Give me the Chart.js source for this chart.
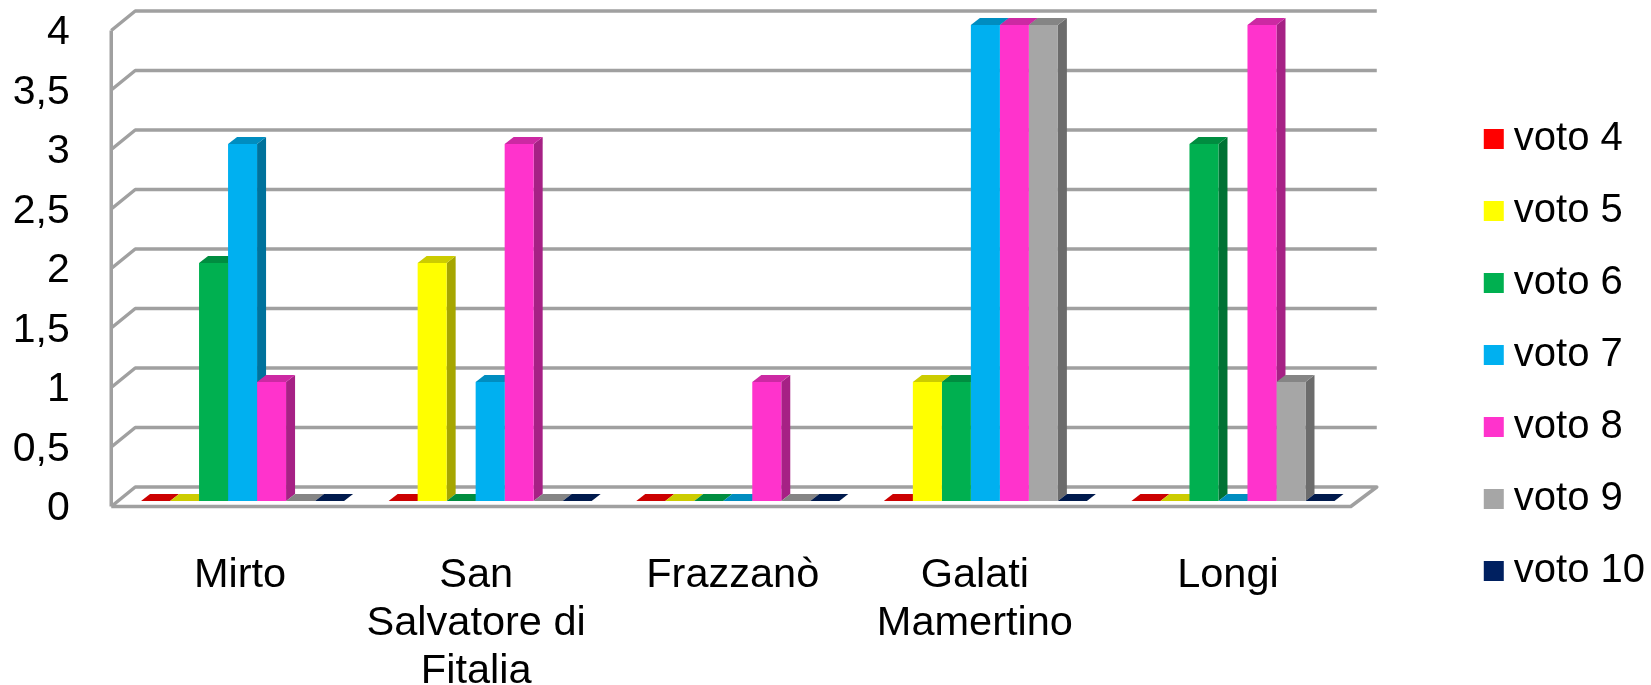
<!DOCTYPE html>
<html>
<head>
<meta charset="utf-8">
<style>
  html, body { margin: 0; padding: 0; background: #fff; }
  #wrap { width: 1651px; height: 685px; }
</style>
<script src="https://cdn.jsdelivr.net/npm/chart.js@4/dist/chart.umd.min.js"></script>
</head>
<body>
<div id="wrap"><canvas id="chart" width="1651" height="685"></canvas></div>
<script>
var comuni = ['Mirto', ['San', 'Salvatore di', 'Fitalia'], 'Frazzanò', ['Galati', 'Mamertino'], 'Longi'];
var yTicks = [0, 0.5, 1, 1.5, 2, 2.5, 3, 3.5, 4];

var voto4 = [0, 0, 0, 0, 0];
var voto5 = [0, 2, 0, 1, 0];
var voto6 = [2, 0, 0, 1, 3];
var voto7 = [3, 1, 0, 4, 0];
var voto8 = [1, 3, 1, 4, 4];
var voto9 = [0, 0, 0, 4, 1];
var voto10 = [0, 0, 0, 0, 0];

var names = ['voto 4', 'voto 5', 'voto 6', 'voto 7', 'voto 8', 'voto 9', 'voto 10'];
var colors = ['#ff0000', '#ffff00', '#00b050', '#00b0f0', '#ff33cc', '#a6a6a6', '#002060'];
var values = [voto4, voto5, voto6, voto7, voto8, voto9, voto10];

var FONT = 'Arial, "Liberation Sans", sans-serif';

function shade(hex, k) {
  var r = parseInt(hex.substr(1, 2), 16);
  var g = parseInt(hex.substr(3, 2), 16);
  var b = parseInt(hex.substr(5, 2), 16);
  return 'rgb(' + Math.round(r * k) + ',' + Math.round(g * k) + ',' + Math.round(b * k) + ')';
}

function poly(ctx, pts, fill) {
  ctx.beginPath();
  ctx.moveTo(pts[0], pts[1]);
  for (var i = 2; i < pts.length; i += 2) {
    ctx.lineTo(pts[i], pts[i + 1]);
  }
  ctx.closePath();
  ctx.fillStyle = fill;
  ctx.fill();
}

// back wall, left wall and floor, drawn from the y scale
var walls = {
  id: 'walls',
  beforeDatasetsDraw: function(chart) {
    var ctx = chart.ctx;
    var y = chart.scales.y;
    var a = chart.chartArea;
    var fl = a.left - 7.5, bl = a.left + 16.5;
    var fr = a.right - 6, br = a.right + 20;
    ctx.save();
    ctx.strokeStyle = '#a0a0a0';
    ctx.lineWidth = 3.5;
    ctx.lineJoin = 'round';
    yTicks.forEach(function(t) {
      var py = y.getPixelForValue(t);
      ctx.beginPath();
      ctx.moveTo(fl, py + 5.5);
      ctx.lineTo(bl, py - 14);
      ctx.lineTo(br, py - 14);
      if (t === 0) {
        ctx.lineTo(fr, py + 5.5);
        ctx.lineTo(fl, py + 5.5);
      }
      ctx.stroke();
    });
    ctx.beginPath();
    ctx.moveTo(fl, y.getPixelForValue(4) + 5.5);
    ctx.lineTo(fl, y.getPixelForValue(0) + 5.5);
    ctx.stroke();
    ctx.restore();
  }
};

// side and top faces of the bars, the fronts come from the library
var faces = {
  id: 'faces',
  beforeDatasetsDraw: function(chart) {
    var ctx = chart.ctx;
    var dx = 9, dy = 7;
    for (var d = 0; d < names.length; d++) {
      var bars = chart.getDatasetMeta(d).data;
      for (var i = 0; i < bars.length; i++) {
        var b = bars[i];
        var w = b.width / 2;
        poly(ctx, [b.x + w, b.y, b.x + w + dx, b.y - dy, b.x + w + dx, b.base - dy, b.x + w, b.base], shade(colors[d], 0.65));
        poly(ctx, [b.x - w, b.y, b.x + w, b.y, b.x + w + dx, b.y - dy, b.x - w + dx, b.y - dy], shade(colors[d], 0.8));
      }
    }
  }
};

// the labels are not quite centred under their groups in the original.
// done after the bars are placed, they read the same tick pixels for their width
var labelNudge = {
  id: 'labelNudge',
  afterDatasetsUpdate: function(chart) {
    var nudge = [-2.5, -14, -5, -10.5, -5];
    var x = chart.scales.x;
    var tickPixel = Object.getPrototypeOf(x).getPixelForTick;
    x.getPixelForTick = function(i) {
      return tickPixel.call(x, i) + nudge[i];
    };
  }
};

var datasets = [];
for (var s = 0; s < names.length; s++) {
  datasets.push({
    label: names[s],
    data: values[s],
    backgroundColor: colors[s],
    borderWidth: 0,
    pointStyle: 'rect',
    barPercentage: 1,
    categoryPercentage: 0.82
  });
}

new Chart(document.getElementById('chart').getContext('2d'), {
  type: 'bar',
  data: { labels: comuni, datasets: datasets },
  plugins: [walls, faces, labelNudge],
  options: {
    responsive: false,
    animation: false,
    layout: { padding: { top: 25, right: -4, bottom: 0, left: 0 } },
    plugins: {
      tooltip: { enabled: false },
      legend: {
        position: 'right',
        onClick: null,
        labels: {
          usePointStyle: true,
          pointStyle: 'rect',
          boxWidth: 0.01,
          boxHeight: 20,
          padding: 32,
          color: '#000',
          font: { family: FONT, size: 40 }
        }
      }
    },
    scales: {
      y: {
        min: 0,
        max: 4,
        afterFit: function(scale) {
          scale.width = 118.75;
          scale.paddingTop = 0;
          scale.paddingBottom = 0;
        },
        afterBuildTicks: function(scale) {
          scale.ticks = yTicks.map(function(t) { return { value: t }; });
        },
        grid: { display: false, drawTicks: false },
        border: { display: false },
        ticks: {
          padding: 49,
          labelOffset: 8,
          color: '#000',
          font: { family: FONT, size: 41 },
          callback: function(v) { return String(v).replace('.', ','); }
        }
      },
      x: {
        afterFit: function(scale) {
          scale.height = 184;
          scale.paddingLeft = 0;
          scale.paddingRight = 0;
        },
        grid: { display: false, drawTicks: false },
        border: { display: false },
        ticks: {
          padding: 51,
          autoSkip: false,
          maxRotation: 0,
          color: '#000',
          font: { family: FONT, size: 41.5, lineHeight: 1.15 }
        }
      },
      gap: {
        position: 'right',
        afterFit: function(scale) { scale.width = 105; },
        grid: { display: false, drawTicks: false },
        border: { display: false },
        ticks: { display: false }
      }
    }
  }
});
</script>
</body>
</html>
